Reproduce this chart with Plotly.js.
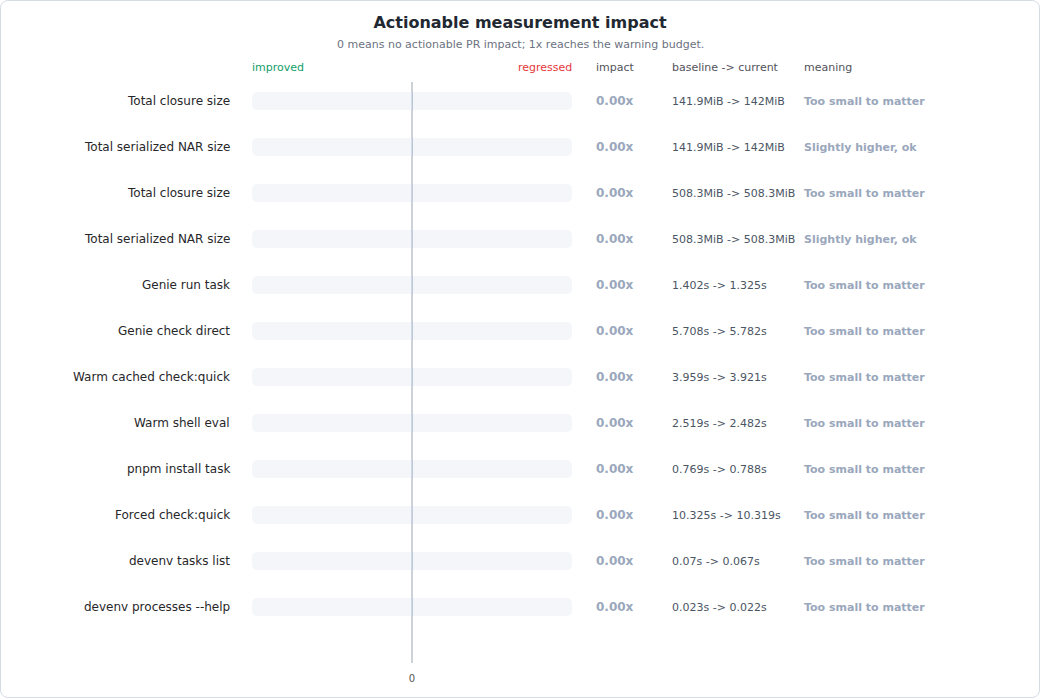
<!DOCTYPE html>
<html>
<head>
<meta charset="utf-8">
<script src="https://cdn.plot.ly/plotly-3.0.1.min.js"></script>
<style>
  html, body { margin: 0; padding: 0; background: #fff; }
  #wrap { position: relative; width: 1040px; height: 698px; }
  #frame { position: absolute; left: 0; top: 0; width: 1040px; height: 698px; box-sizing: border-box;
           border: 1px solid #d5dce6; border-radius: 8px; pointer-events: none; }
</style>
</head>
<body>
<div id="wrap">
  <div id="chart"></div>
  <div id="frame"></div>
</div>
<script>
  // one row per measurement, top to bottom
  const labels = [
    "Total closure size", "Total serialized NAR size", "Total closure size", "Total serialized NAR size",
    "Genie run task", "Genie check direct", "Warm cached check:quick", "Warm shell eval",
    "pnpm install task", "Forced check:quick", "devenv tasks list", "devenv processes --help"
  ];
  const impacts = [0.003, 0.003, 0.001, 0.001, 0.002, 0.002, 0.002, 0.002, 0.002, 0.001, 0.002, 0.002];
  const baselines = ["141.9MiB", "141.9MiB", "508.3MiB", "508.3MiB", "1.402s", "5.708s", "3.959s",
    "2.519s", "0.769s", "10.325s", "0.07s", "0.023s"];
  const currents = ["142MiB", "142MiB", "508.3MiB", "508.3MiB", "1.325s", "5.782s", "3.921s",
    "2.482s", "0.788s", "10.319s", "0.067s", "0.022s"];
  const meanings = ["Too small to matter", "Slightly higher, ok", "Too small to matter", "Slightly higher, ok",
    "Too small to matter", "Too small to matter", "Too small to matter", "Too small to matter",
    "Too small to matter", "Too small to matter", "Too small to matter", "Too small to matter"];

  const FONT = "DejaVu Sans, Verdana, sans-serif";
  const rows = labels.map((_, i) => i);

  // plot area is 252..572 px wide, 82..663 px tall
  const px = (x) => (x - 252) / 320;
  const py = (y) => (663 - y) / 581;

  const track = {
    type: "bar", orientation: "h",
    y: rows, x: rows.map(() => 2), base: rows.map(() => -1),
    width: 0.39,
    marker: { color: "#f4f6f9", cornerradius: 5 },
    hoverinfo: "skip"
  };

  const bars = {
    type: "bar", orientation: "h",
    y: rows, x: impacts,
    width: 0.39,
    marker: { color: "#b9c5d8", line: { color: "#b9c5d8", width: 1 } },
    hovertemplate: "%{x:.2f}x<extra></extra>"
  };

  const annotations = [];
  function note(x, y, text, opts) {
    annotations.push(Object.assign({
      xref: "paper", yref: "y", x: x, y: y, text: text, showarrow: false,
      xanchor: "left", yanchor: "middle",
      font: { family: FONT, size: 11, color: "#4b5563" }
    }, opts || {}));
  }

  // annotations carry ~2px of padding, so nudge the anchors
  rows.forEach(i => {
    note(px(232), i, labels[i], { xanchor: "right", font: { family: FONT, size: 12, color: "#27272a" } });
    note(px(594), i, "<b>" + impacts[i].toFixed(2) + "x</b>", { font: { family: FONT, size: 12, color: "#9aa7bc" } });
    note(px(670), i, baselines[i] + " -> " + currents[i], { font: { family: FONT, size: 11, color: "#4b5563" } });
    note(px(802), i, "<b>" + meanings[i] + "</b>", { font: { family: FONT, size: 11, color: "#9aa7bc" } });
  });

  const headY = py(68);
  [["improved", 250, "left", "#12a06c"], ["regressed", 574, "right", "#e5383b"],
   ["impact", 594, "left", "#52525b"], ["baseline -> current", 670, "left", "#52525b"],
   ["meaning", 802, "left", "#52525b"]].forEach(h => {
    annotations.push({
      xref: "paper", yref: "paper", x: px(h[1]), y: headY, text: h[0], showarrow: false,
      xanchor: h[2], yanchor: "middle", font: { family: FONT, size: 11, color: h[3] }
    });
  });

  annotations.push({
    xref: "paper", yref: "paper", x: px(520), y: py(44), showarrow: false,
    text: "0 means no actionable PR impact; 1x reaches the warning budget.",
    xanchor: "center", yanchor: "middle", font: { family: FONT, size: 11, color: "#6b7280" }
  });

  const layout = {
    width: 1040, height: 698,
    margin: { l: 252, r: 468, t: 82, b: 35 },
    paper_bgcolor: "rgba(0,0,0,0)", plot_bgcolor: "rgba(0,0,0,0)",
    showlegend: false, barmode: "overlay",
    font: { family: FONT },
    title: {
      text: "<b>Actionable measurement impact</b>",
      xref: "container", x: 0.5, xanchor: "center",
      yref: "container", y: 1 - 22 / 698, yanchor: "middle",
      font: { family: FONT, size: 16, color: "#222831" }
    },
    xaxis: {
      range: [-1, 1], showgrid: false, showline: false,
      zeroline: true, zerolinecolor: "#cdd2d9", zerolinewidth: 2,
      tickvals: [0], ticktext: ["0"], ticks: "", ticklabelstandoff: 8,
      tickfont: { family: FONT, size: 10, color: "#555" },
      fixedrange: true
    },
    yaxis: {
      range: [12.217, -0.413], showgrid: false, zeroline: false, showline: false,
      showticklabels: false, ticks: "", fixedrange: true
    },
    annotations: annotations
  };

  Plotly.newPlot("chart", [track, bars], layout, { displayModeBar: false, staticPlot: true });
</script>
</body>
</html>
